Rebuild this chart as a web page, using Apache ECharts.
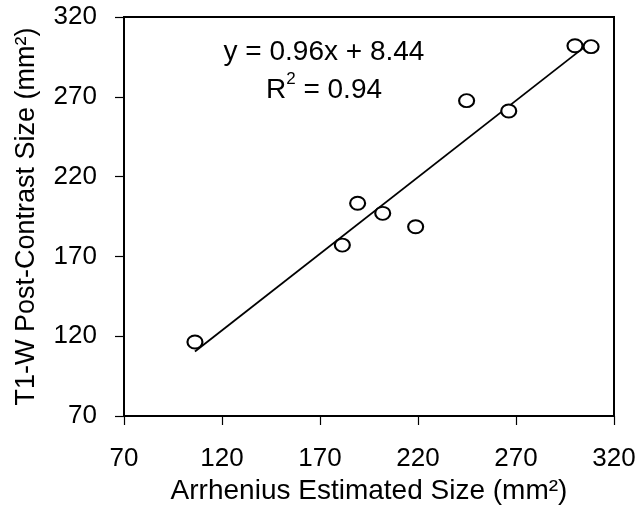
<!DOCTYPE html>
<html><head><meta charset="utf-8">
<script src="https://cdn.jsdelivr.net/npm/echarts@6/dist/echarts.min.js"></script>
<style>html,body{margin:0;padding:0;background:#fff}#c{width:640px;height:505px}</style>
</head><body><div id="c"></div>
<script>
const arrheniusSize = [106.2, 181.4, 189.2, 202.0, 218.8, 244.8, 266.3, 300.1, 308.3];
const t1wSize       = [116.4, 177.1, 203.3, 197.0, 188.6, 267.6, 261.1, 302.0, 301.4];
const fitSlope = 0.96;
const fitIntercept = 8.44;
const rSquared = 0.94;
const axisTicks = [70, 120, 170, 220, 270, 320];

const points = arrheniusSize.map((x, i) => [x, t1wSize[i]]);
const xMin = Math.min(...arrheniusSize), xMax = Math.max(...arrheniusSize);
const fitLine = [[xMin, fitSlope * xMin + fitIntercept], [xMax, fitSlope * xMax + fitIntercept]];

const FONT = 'Liberation Sans, Arial, sans-serif';
const chart = echarts.init(document.getElementById('c'), null, {renderer: 'canvas'});
const axisCommon = {
  type: 'value', min: axisTicks[0], max: axisTicks[axisTicks.length - 1], interval: 50,
  splitLine: {show: false},
  axisLine: {show: true, lineStyle: {color: '#000', width: 2}},
  axisTick: {show: true, inside: false, length: 9, lineStyle: {color: '#000', width: 1.2}},
  axisLabel: {color: '#000', fontSize: 26, fontFamily: FONT},
  nameLocation: 'middle',
  nameTextStyle: {color: '#000', fontSize: 27, fontFamily: FONT}
};
chart.setOption({
  animation: false,
  backgroundColor: '#fff',
  grid: {left: 124, right: 26, top: 17, bottom: 89, outerBoundsMode: 'none', containLabel: false,
    show: true, borderColor: '#000', borderWidth: 2, backgroundColor: 'transparent'},
  xAxis: Object.assign({}, axisCommon, {name: 'Arrhenius Estimated Size (mm²)', nameGap: 57,
    nameTextStyle: {color: '#000', fontSize: 28, fontFamily: FONT},
    axisLabel: Object.assign({}, axisCommon.axisLabel, {margin: 30})}),
  yAxis: Object.assign({}, axisCommon, {name: 'T1-W Post-Contrast Size (mm²)', nameGap: 84,
    axisLabel: Object.assign({}, axisCommon.axisLabel, {margin: 27})}),
  graphic: [
    {type: 'text', x: 324, y: 52.5, silent: true,
     style: {text: 'y = ' + fitSlope + 'x + ' + fitIntercept, fill: '#000', font: '28px ' + FONT,
       align: 'center', verticalAlign: 'middle'}},
    {type: 'text', x: 324, y: 90, silent: true,
     style: {text: '{b|R}{s|2}{b| = ' + rSquared + '}', fill: '#000', font: '28px ' + FONT,
       align: 'center', verticalAlign: 'middle',
       rich: {b: {fontSize: 28, fontFamily: FONT, fill: '#000', lineHeight: 38},
              s: {fontSize: 17, fontFamily: FONT, fill: '#000', verticalAlign: 'top', lineHeight: 17}}}}
  ],
  series: [
    {type: 'line', data: fitLine, symbol: 'none', lineStyle: {color: '#000', width: 1.8}, z: 2},
    {type: 'scatter', data: points, symbol: 'emptyCircle', symbolSize: [15, 13],
     itemStyle: {color: '#000', borderColor: '#000', borderWidth: 1.2, opacity: 1}, z: 3}
  ]
});
</script></body></html>
